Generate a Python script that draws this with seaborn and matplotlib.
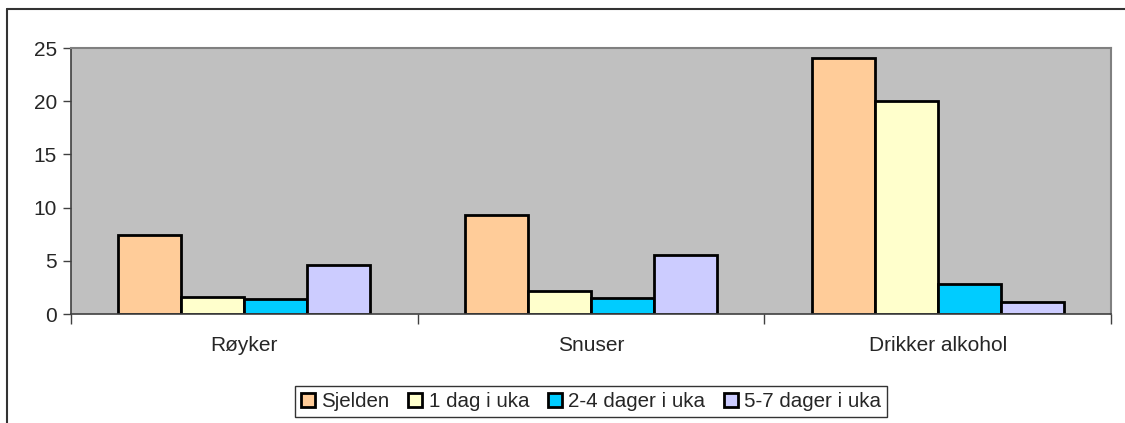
import pandas as pd
import matplotlib.pyplot as plt
import seaborn as sns
from matplotlib.lines import Line2D

# data
categories = ["Røyker", "Snuser", "Drikker alkohol"]
series = ["Sjelden", "1 dag i uka", "2-4 dager i uka", "5-7 dager i uka"]
sjelden = [7.4, 9.3, 24.1]
en_dag = [1.6, 2.2, 20.0]
to_fire = [1.4, 1.5, 2.8]
fem_sju = [4.6, 5.5, 1.1]
colors = ["#FFCC99", "#FFFFCC", "#00CCFF", "#CCCCFF"]

rows = []
for s, vals in zip(series, [sjelden, en_dag, to_fire, fem_sju]):
    for c, v in zip(categories, vals):
        rows.append({"kategori": c, "serie": s, "verdi": v})
df = pd.DataFrame(rows)

sns.set_style("white")
plt.rcParams["font.family"] = ["Liberation Sans", "DejaVu Sans"]

fig = plt.figure(figsize=(11.25, 4.23), dpi=100)
ax = fig.add_axes([71 / 1125, 1 - 314 / 423, (1111 - 71) / 1125, (314 - 48) / 423])

sns.barplot(data=df, x="kategori", y="verdi", hue="serie", order=categories,
            hue_order=series, palette=colors, saturation=1, width=4 / 5.5,
            edgecolor="black", linewidth=2, ax=ax, legend=True)

ax.set_facecolor("#C0C0C0")
ax.set_xlim(-0.5, 2.5)
ax.set_ylim(0, 25)
ax.set_yticks(range(0, 26, 5))
ax.set_xlabel("")
ax.set_ylabel("")

for side in ["top", "right"]:
    ax.spines[side].set_visible(True)
    ax.spines[side].set_color("#808080")
    ax.spines[side].set_linewidth(1.5)
ax.spines["left"].set_color("#404040")
ax.spines["bottom"].set_color("#404040")
ax.spines["left"].set_linewidth(1.2)
ax.spines["bottom"].set_linewidth(1.2)

ax.tick_params(axis="y", direction="out", length=6, width=1, color="#404040",
               labelsize=15, pad=4, left=True)
ax.tick_params(axis="x", which="major", length=0, labelsize=15, pad=16)
ax.set_xticks([-0.5, 0.5, 1.5, 2.5], minor=True)
ax.tick_params(axis="x", which="minor", direction="out", length=7, width=1,
               color="#404040", bottom=True)

handles, labels = ax.get_legend_handles_labels()
ax.legend(handles, labels, loc="upper center", bbox_to_anchor=(0.5, -0.27),
          ncol=4, frameon=True, fancybox=False, edgecolor="black",
          fontsize=14.8, handlelength=0.7, handleheight=0.7, handletextpad=0.3,
          columnspacing=0.9, borderpad=0.3, borderaxespad=0)
ax.get_legend().get_frame().set_linewidth(1.0)

# chart frame (cropped: only left and top edges visible)
fig.add_artist(Line2D([7 / 1125, 7 / 1125], [0, 1 - 9 / 423], color="#333333",
                      linewidth=1.5, transform=fig.transFigure))
fig.add_artist(Line2D([7 / 1125, 1], [1 - 9 / 423, 1 - 9 / 423], color="#333333",
                      linewidth=1.5, transform=fig.transFigure))

fig.savefig("out.png", dpi=100)
